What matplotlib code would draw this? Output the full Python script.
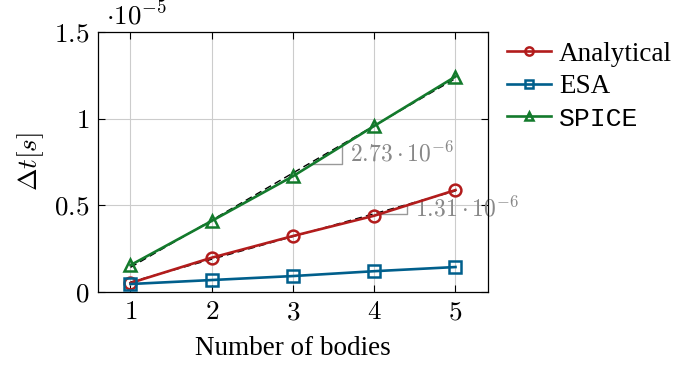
import matplotlib
matplotlib.use("Agg")
import matplotlib.pyplot as plt
import numpy as np

plt.rcParams["mathtext.fontset"] = "cm"
plt.rcParams["font.family"] = ["Liberation Serif", "DejaVu Serif"]

bodies = [1, 2, 3, 4, 5]
# values in units of 1e-5 s
analytical = [0.052, 0.198, 0.323, 0.440, 0.588]
esa = [0.046, 0.069, 0.092, 0.120, 0.144]
spice = [0.155, 0.410, 0.668, 0.958, 1.243]
slope_labels = {"Analytical": r"$1.31\cdot10^{-6}$", "SPICE": r"$2.73\cdot10^{-6}$"}

red = "#B21C1C"
blue = "#005F8C"
green = "#137A2C"
fs = 19.5

fig = plt.figure(figsize=(6.73, 3.66), dpi=100)
ax = fig.add_axes([0.1456, 0.2022, 0.5795, 0.7104])

x = np.array(bodies, dtype=float)

# regression lines + slope triangles
for ys, name, p0, p1 in [(spice, "SPICE", 0.55, 0.65), (analytical, "Analytical", 0.75, 0.85)]:
    a, b = np.polyfit(x, ys, 1)
    ax.plot(x, a * x + b, color="black", lw=1.0, ls=(0, (5, 3)), zorder=3)
    xa = x[0] + p0 * (x[-1] - x[0])
    xb = x[0] + p1 * (x[-1] - x[0])
    ya, yb = a * xa + b, a * xb + b
    ax.plot([xa, xb, xb], [ya, ya, yb], color="#999999", lw=1.0, zorder=2)
    ax.text(xb + 0.1, (ya + yb) / 2, slope_labels[name], color="#888888",
            fontsize=17, ha="left", va="center", zorder=2)

mk = dict(lw=1.9, ms=8.5, mfc="none", mew=1.8, zorder=4)
ax.plot(bodies, analytical, color=red, marker="o", label="Analytical", **mk)
ax.plot(bodies, esa, color=blue, marker="s", label="ESA", **mk)
ax.plot(bodies, spice, color=green, marker="^", label="SPICE", **mk)

ax.set_xlim(0.6, 5.4)
ax.set_ylim(0, 1.5)
ax.set_xticks(bodies)
ax.set_xticklabels([f"${b}$" for b in bodies], fontsize=fs)
ax.set_yticks([0, 0.5, 1, 1.5])
ax.set_yticklabels(["$0$", "$0.5$", "$1$", "$1.5$"], fontsize=fs)
ax.tick_params(direction="in", top=True, right=True, length=5, width=0.8, pad=6)
ax.grid(True, color="#cccccc", lw=0.8)
ax.set_axisbelow(True)
for s in ax.spines.values():
    s.set_linewidth(0.9)

ax.set_xlabel("Number of bodies", fontsize=fs, labelpad=8)
ax.set_ylabel(r"$\Delta t[s]$", fontsize=fs, labelpad=6)
ax.text(0.02, 1.004, r"$\cdot10^{-5}$", transform=ax.transAxes, fontsize=fs,
        ha="left", va="bottom")

leg = ax.legend(loc="upper left", bbox_to_anchor=(1.05, 0.963), frameon=False,
                fontsize=fs, handlelength=1.6, handletextpad=0.3,
                labelspacing=0.28, borderaxespad=0.0, borderpad=0.0,
                markerscale=0.7)
for t in leg.get_texts():
    if t.get_text() == "SPICE":
        t.set_family(["Liberation Mono", "DejaVu Sans Mono"])
        t.set_fontsize(19)

fig.savefig("out.png", dpi=100)
